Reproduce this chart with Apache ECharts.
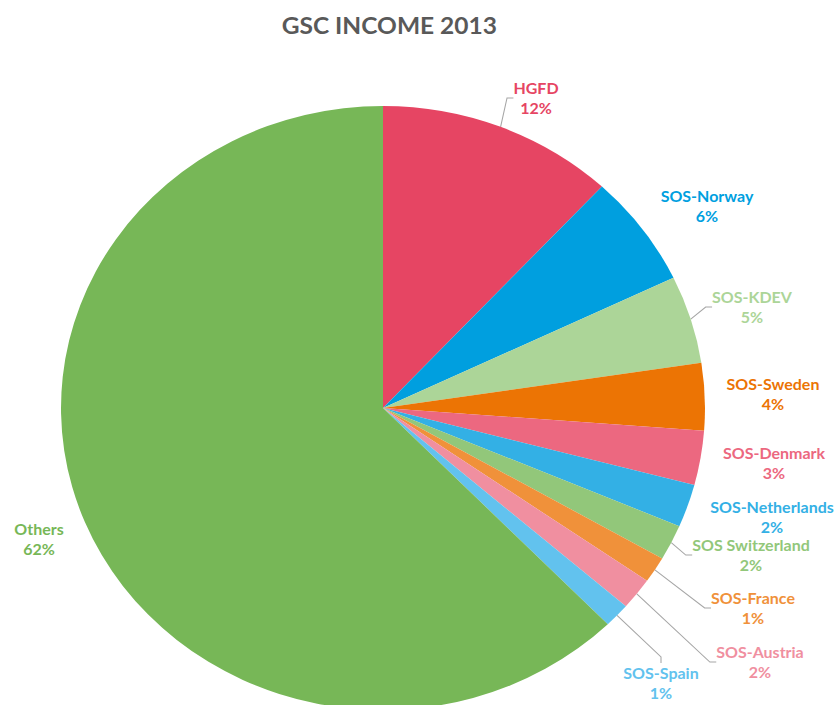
<!DOCTYPE html>
<html>
<head>
<meta charset="utf-8">
<script src="https://cdn.jsdelivr.net/npm/echarts@6/dist/echarts.min.js"></script>
<style>
  html, body { margin: 0; padding: 0; background: #ffffff; overflow: hidden; }
  #wrap { width: 835px; height: 705px; overflow: hidden; position: relative; }
  #chart { position: absolute; left: 0; top: 0; height: 705px; transform-origin: 0 0; }
</style>
</head>
<body>
<div id="wrap"><div id="chart"></div></div>
<script>
// ---- data ----
const titleText = 'GSC INCOME 2013';
const categories = ['HGFD', 'SOS-Norway', 'SOS-KDEV', 'SOS-Sweden', 'SOS-Denmark',
  'SOS-Netherlands', 'SOS Switzerland', 'SOS-France', 'SOS-Austria', 'SOS-Spain', 'Others'];
const shares = [11.9, 6.0, 4.7, 3.6, 2.9, 2.3, 1.9, 1.4, 1.7, 1.3, 62.3];

// ---- styles / layout ----
const colors = ['#E64563', '#009FDF', '#ACD598', '#EC7404', '#EC6880',
  '#33B0E5', '#92C77A', '#F0913A', '#F08FA0', '#62C2EE', '#77B757'];
const withLeader = [true, false, true, false, false, false, true, true, true, true, false];
// label centres in page pixels
const labelPos = [[536, 98], [707, 206], [752, 307], [773, 394], [774, 463],
  [772, 517], [751, 555], [753, 608], [760, 662], [661, 683], [39, 539]];
const SX = 1.0662; // horizontal stretch of the original picture
const W = 835, H = 705;

const el = document.getElementById('chart');
el.style.width = (W / SX) + 'px';
el.style.transform = 'scaleX(' + SX + ')';

const chart = echarts.init(el, null, { renderer: 'svg' });
const FONT = 'Lato, "Open Sans", sans-serif';

chart.setOption({
  animation: false,
  title: {
    text: titleText,
    left: 384 / SX,
    top: 9,
    textAlign: 'center',
    textStyle: { fontFamily: FONT, fontWeight: 'bold', fontSize: 23, color: '#595959' }
  },
  series: [{
    type: 'pie',
    center: [383 / SX, 408],
    radius: 302,
    startAngle: 90,
    clockwise: true,
    avoidLabelOverlap: false,
    itemStyle: { borderWidth: 0 },
    emphasis: { disabled: true },
    label: {
      show: true,
      position: 'outside',
      fontFamily: FONT,
      fontWeight: 'bold',
      fontSize: 15,
      lineHeight: 20,
      align: 'center',
      formatter: p => p.name + '\n' + Math.round(p.percent) + '%'
    },
    labelLine: {
      show: true, length: 8, length2: 6, smooth: false,
      lineStyle: { color: '#A6A6A6', width: 1 }
    },
    labelLayout: params => {
      const p = labelPos[params.dataIndex];
      return { x: p[0] / SX, y: p[1], align: 'center', verticalAlign: 'middle' };
    },
    data: categories.map((name, i) => ({
      name: name,
      value: shares[i],
      itemStyle: { color: colors[i] },
      label: { color: colors[i] },
      labelLine: { show: withLeader[i] }
    }))
  }]
});
</script>
</body>
</html>
